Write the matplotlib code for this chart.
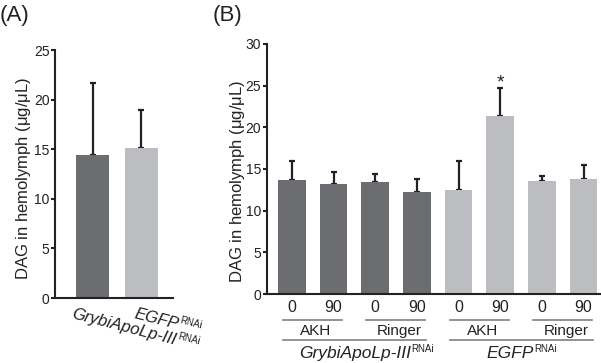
import numpy as np
import matplotlib
matplotlib.use("Agg")
import matplotlib.pyplot as plt
import matplotlib.transforms as mtransforms
from matplotlib.font_manager import FontProperties, findfont

plt.rcParams['font.family'] = ['Liberation Sans', 'DejaVu Sans']
plt.rcParams['mathtext.fontset'] = 'custom'
plt.rcParams['mathtext.rm'] = 'Liberation Sans'

DARK = '#6c6d71'
LIGHT = '#bcbdc0'
INK = '#222222'
RULE = '#808080'

try:
    findfont(FontProperties(family='Liberation Sans Narrow'), fallback_to_default=False)
    SUPFAM = 'Liberation Sans Narrow'
except Exception:
    SUPFAM = 'Liberation Sans'

# panel A data
a_genes = ['GrybiApoLp-III', 'EGFP']
a_means = [14.4, 15.1]
a_err = [7.3, 3.9]

# panel B data
b_time = ['0', '90', '0', '90', '0', '90', '0', '90']
b_treat = ['AKH', 'Ringer', 'AKH', 'Ringer']
b_genes = ['GrybiApoLp-III', 'EGFP']
b_means = [13.7, 13.2, 13.4, 12.2, 12.5, 21.3, 13.5, 13.85]
b_err = [2.3, 1.4, 1.0, 1.6, 3.5, 3.4, 0.7, 1.6]
b_sig = [5]

fig = plt.figure(figsize=(6.01, 3.63), dpi=100)
axA = fig.add_axes([0.0915, 0.179, 0.197, 0.683])
axB = fig.add_axes([0.444, 0.19, 0.556, 0.689])
renderer = fig.canvas.get_renderer()


def px_off(ax, dx, dy):
    return ax.get_xaxis_transform() + mtransforms.ScaledTranslation(
        dx / fig.dpi, dy / fig.dpi, fig.dpi_scale_trans)


def gene_label(ax, x, y, main, size, rot=0, dx=0, dy=0, center=False,
               sup='RNAi', sup_size=7):
    # italic gene name followed by a small upright RNAi superscript
    pm = FontProperties(family='Liberation Sans', style='italic', size=size)
    ps = FontProperties(family=SUPFAM, size=sup_size)
    wm = renderer.get_text_width_height_descent(main, pm, ismath=False)[0]
    ws = renderer.get_text_width_height_descent(sup, ps, ismath=False)[0]
    th = np.deg2rad(rot)
    ux, uy = np.cos(th), np.sin(th)
    nx, ny = -np.sin(th), np.cos(th)
    if center:
        dx -= (wm + ws) / 2 * ux
        dy -= (wm + ws) / 2 * uy
    ax.text(x, y, main, transform=px_off(ax, dx, dy), fontproperties=pm,
            rotation=rot, rotation_mode='anchor', ha='left', va='baseline',
            color=INK, clip_on=False)
    r = 0.37 * size * fig.dpi / 72
    sx = dx + (wm + 0.5) * ux + r * nx
    sy = dy + (wm + 0.5) * uy + r * ny
    ax.text(x, y, sup, transform=px_off(ax, sx, sy), fontproperties=ps,
            rotation=rot, rotation_mode='anchor', ha='left', va='baseline',
            color=INK, clip_on=False)


def style(ax, top, lx, ly):
    for s in ['top', 'right']:
        ax.spines[s].set_visible(False)
    for s in ['left', 'bottom']:
        ax.spines[s].set_linewidth(1.5)
        ax.spines[s].set_color(INK)
    ax.set_ylim(0, top)
    ax.set_yticks(np.arange(0, top + 1, 5))
    ax.tick_params(axis='y', direction='out', length=3, width=1.5,
                   color=INK, labelsize=10, pad=1, labelcolor=INK)
    ax.tick_params(axis='x', length=0, labelbottom=False)
    ax.set_ylabel(r'DAG in hemolymph ($\mathrm{\mu}$g/$\mathrm{\mu}$L)',
                  fontsize=12, color=INK)
    ax.yaxis.set_label_coords(lx, ly)


# panel A
xa = np.arange(len(a_means))
axA.bar(xa, a_means, width=0.68, color=[DARK, LIGHT], zorder=2)
axA.errorbar(xa, a_means, yerr=[np.zeros(len(a_err)), a_err], fmt='none',
             ecolor=INK, elinewidth=1.6, capsize=2.5, capthick=1.6, zorder=1)
axA.set_xlim(-0.77, 1.66)
style(axA, 25, -0.186, 0.482)
a_shift = [(-21.5, -20), (-8, -19.6)]
for i, g in enumerate(a_genes):
    gene_label(axA, xa[i], 0, g, 12, rot=-14.5,
               dx=a_shift[i][0], dy=a_shift[i][1])
fig.text(0.0, 0.958, '(A)', fontsize=16, color=INK, va='center', ha='left')

# panel B
xb = np.arange(len(b_means))
axB.bar(xb, b_means, width=0.66, color=[DARK] * 4 + [LIGHT] * 4, zorder=2)
axB.errorbar(xb, b_means, yerr=[np.zeros(len(b_err)), b_err], fmt='none',
             ecolor=INK, elinewidth=1.6, capsize=2.5, capthick=1.6, zorder=1)
axB.set_xlim(-0.6, 7.42)
style(axB, 30, -0.06, 0.45)
for i in b_sig:
    axB.text(xb[i], b_means[i] + b_err[i] + 0.05, '*', ha='center',
             va='baseline', fontsize=14, color=INK)

tr = axB.get_xaxis_transform()
for i, t in enumerate(b_time):
    axB.text(xb[i], -0.072, t, transform=tr, ha='center', va='baseline',
             fontsize=11.5, color=INK)
for k, t in enumerate(b_treat):
    axB.plot([2 * k - 0.21, 2 * k + 1.2], [-0.104, -0.104], transform=tr,
             color=RULE, lw=1.2, clip_on=False)
    axB.text(2 * k + 0.58, -0.162, t, transform=tr, ha='center',
             va='baseline', fontsize=11, color=INK)
b_shift = [12, 0]
for k, g in enumerate(b_genes):
    axB.plot([4 * k - 0.21, 4 * k + 3.22], [-0.183, -0.183], transform=tr,
             color=RULE, lw=1.2, clip_on=False)
    gene_label(axB, 4 * k + 1.5, -0.256, g, 12.5, dx=b_shift[k], center=True)
fig.text(0.354, 0.958, '(B)', fontsize=16, color=INK, va='center', ha='left')

fig.savefig('out.png', dpi=100)
